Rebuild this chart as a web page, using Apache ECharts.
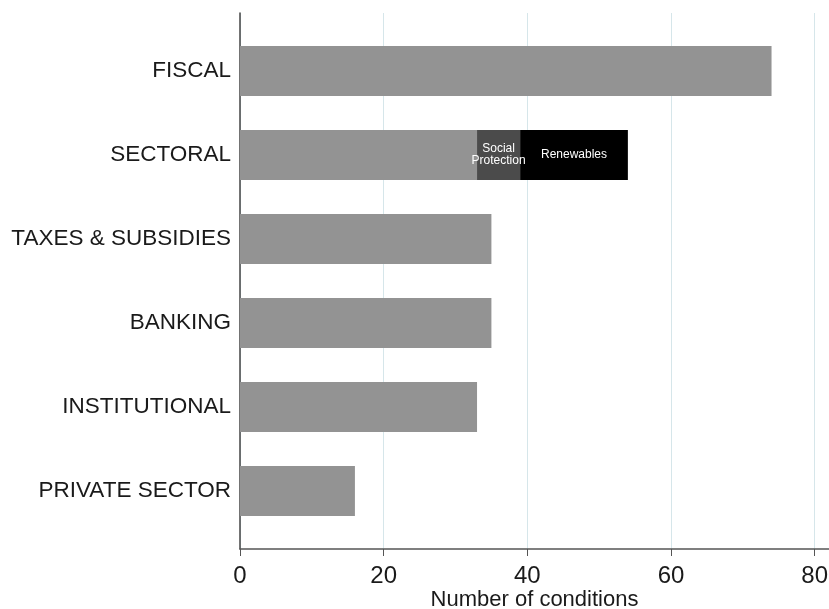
<!DOCTYPE html>
<html>
<head>
<meta charset="utf-8">
<script src="https://cdn.jsdelivr.net/npm/echarts@6/dist/echarts.min.js"></script>
<style>
  html, body { margin: 0; padding: 0; background: #fff; }
  #chart { width: 829px; height: 609px; }
</style>
</head>
<body>
<div id="chart"></div>
<script>
// categories, top to bottom
const categories = ['FISCAL', 'SECTORAL', 'TAXES & SUBSIDIES', 'BANKING', 'INSTITUTIONAL', 'PRIVATE SECTOR']
// number of conditions
const baseValues = [74, 33, 35, 35, 33, 16]
const socialProtection = [0, 6, 0, 0, 0, 0]
const renewables = [0, 15, 0, 0, 0, 0]
const xTicks = [0, 20, 40, 60, 80]

const font = '"Liberation Sans", Arial, Helvetica, sans-serif'
const textColor = '#1a1a1a'

const chart = echarts.init(document.getElementById('chart'))

// only show a label for the non-empty segment
function segLabel (text) {
  return {
    show: true,
    position: 'inside',
    color: '#fff',
    fontFamily: font,
    fontSize: 12,
    lineHeight: 12,
    formatter: p => (p.value > 0 ? text : '')
  }
}

const option = {
  animation: false,
  backgroundColor: '#fff',
  grid: [
    // frame grid: axis lines, ticks, gridlines
    { left: 240, right: 0, top: 13, bottom: 60, outerBoundsMode: 'none' },
    // bars sit inside a slightly shorter band
    { left: 240, right: 0, top: 29, bottom: 76, outerBoundsMode: 'none' }
  ],
  xAxis: [
    {
      type: 'value',
      gridIndex: 0,
      min: 0,
      max: 82,
      interval: 20,
      name: 'Number of conditions',
      nameLocation: 'middle',
      nameGap: 40,
      nameMoveOverlap: false,
      nameTextStyle: { fontFamily: font, fontSize: 22, color: textColor },
      axisLine: { show: true, lineStyle: { color: '#555', width: 1.5 } },
      axisTick: { show: true, length: 7, customValues: xTicks, lineStyle: { color: '#555' } },
      axisLabel: {
        customValues: xTicks,
        margin: 15,
        fontFamily: font,
        fontSize: 24,
        color: textColor
      },
      splitLine: { show: true, lineStyle: { color: '#d6e6ea', width: 1 } }
    },
    {
      type: 'value',
      gridIndex: 1,
      min: 0,
      max: 82,
      show: false
    }
  ],
  yAxis: [
    {
      type: 'value',
      gridIndex: 0,
      min: 0,
      max: 1,
      axisLine: { show: true, lineStyle: { color: '#444', width: 1.5 } },
      axisTick: { show: false },
      axisLabel: { show: false },
      splitLine: { show: false }
    },
    {
      type: 'category',
      gridIndex: 1,
      data: categories,
      inverse: true,
      axisLine: { show: false },
      axisTick: { show: false },
      axisLabel: {
        margin: 9,
        fontFamily: font,
        fontSize: 22.5,
        color: textColor
      }
    }
  ],
  series: [
    {
      name: 'Conditions',
      type: 'bar',
      xAxisIndex: 1,
      yAxisIndex: 1,
      stack: 'total',
      barWidth: 50,
      itemStyle: { color: '#939393' },
      data: baseValues
    },
    {
      name: 'Social Protection',
      type: 'bar',
      xAxisIndex: 1,
      yAxisIndex: 1,
      stack: 'total',
      barWidth: 50,
      itemStyle: { color: '#4b4b4b' },
      label: segLabel('Social\nProtection'),
      data: socialProtection
    },
    {
      name: 'Renewables',
      type: 'bar',
      xAxisIndex: 1,
      yAxisIndex: 1,
      stack: 'total',
      barWidth: 50,
      itemStyle: { color: '#000' },
      label: segLabel('Renewables'),
      data: renewables
    }
  ]
}

chart.setOption(option)
</script>
</body>
</html>
